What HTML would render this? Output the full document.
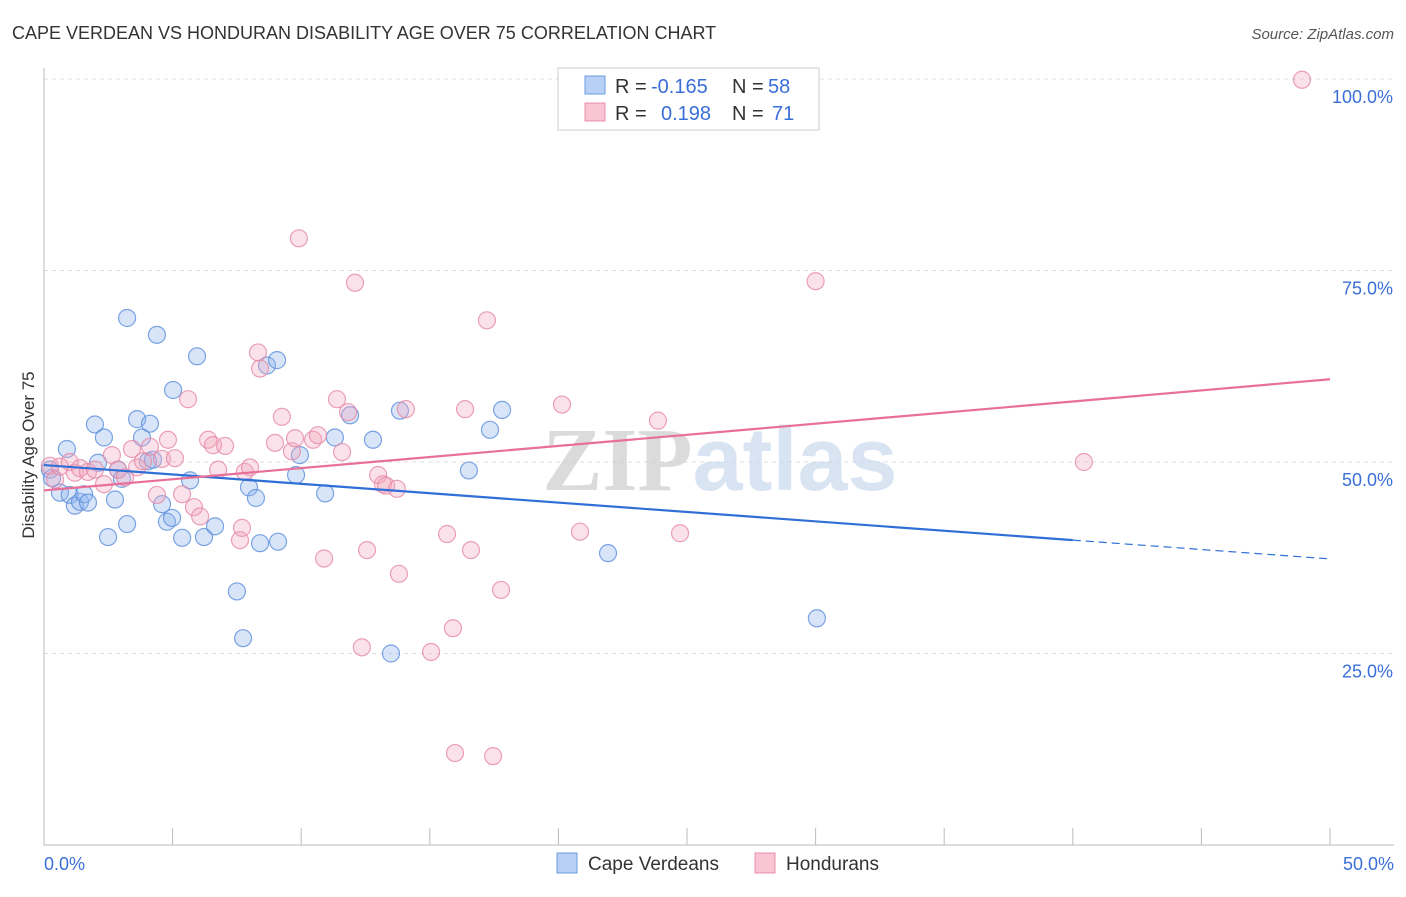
<!DOCTYPE html>
<html><head><meta charset="utf-8"><style>
body{margin:0;background:#fff;font-family:"Liberation Sans",sans-serif;}
svg text{font-family:"Liberation Sans",sans-serif;}
</style></head><body>
<svg width="1406" height="892" xmlns="http://www.w3.org/2000/svg">
<text x="12" y="39" font-size="18" fill="#333">CAPE VERDEAN VS HONDURAN DISABILITY AGE OVER 75 CORRELATION CHART</text>
<text x="1394" y="39" font-size="15" fill="#555" text-anchor="end" font-style="italic">Source: ZipAtlas.com</text>
<g id="grid"></g>
<text x="720" y="490" font-size="90" fill="#ddd" text-anchor="middle" font-weight="bold" opacity="0.7"><tspan font-family="Liberation Serif" fill="#ccc">ZIP</tspan><tspan fill="#c9d9ef">atlas</tspan></text>
<text transform="translate(34,455) rotate(-90)" font-size="17" fill="#333" text-anchor="middle">Disability Age Over 75</text>
<g id="pts"></g>
<g id="lines"></g>
<g>
<rect x="558" y="68" width="261" height="62" fill="#fff" stroke="#ccc"/>
<rect x="585" y="76" width="20" height="18" fill="#b8d0f5" stroke="#6a9be0"/>
<rect x="585" y="103" width="20" height="18" fill="#f9c5d5" stroke="#e890ac"/>
<text x="615" y="93" font-size="20" fill="#333">R =</text>
<text x="651" y="93" font-size="20" fill="#3a6fd8">-0.165</text>
<text x="732" y="93" font-size="20" fill="#333">N =</text>
<text x="768" y="93" font-size="20" fill="#3a6fd8">58</text>
<text x="615" y="120" font-size="20" fill="#333">R =</text>
<text x="661" y="120" font-size="20" fill="#3a6fd8">0.198</text>
<text x="732" y="120" font-size="20" fill="#333">N =</text>
<text x="772" y="120" font-size="20" fill="#3a6fd8">71</text>
</g>
<g>
<rect x="557" y="853" width="20" height="20" fill="#b8d0f5" stroke="#6a9be0"/>
<text x="588" y="870" font-size="19" fill="#333">Cape Verdeans</text>
<rect x="755" y="853" width="20" height="20" fill="#f9c5d5" stroke="#e890ac"/>
<text x="786" y="870" font-size="19" fill="#333">Hondurans</text>
</g>
</svg>
<script>
const yTicks=[25,50,75,100];
const yTickLabels=["25.0%","50.0%","75.0%","100.0%"];
const xTickLabels=["0.0%","50.0%"];
const blueX=[0.23,0.31,0.62,0.89,1.0,1.2,1.4,1.56,1.71,1.98,2.1,2.33,2.49,2.76,2.88,3.03,3.23,3.23,3.62,3.81,4.04,4.12,4.24,4.39,4.59,4.78,4.98,5.02,5.37,5.68,5.95,6.22,6.65,7.5,7.74,7.97,8.24,8.4,8.67,9.06,9.1,9.8,9.95,10.93,11.31,11.9,12.79,13.49,13.84,16.52,17.34,17.81,21.93,30.05];
const blueY=[49.0,47.9,46.0,51.7,45.7,44.3,44.8,45.8,44.7,54.9,49.9,53.2,40.2,45.1,49.0,47.8,68.8,41.9,55.6,53.2,50.1,55.0,50.3,66.6,44.5,42.2,42.7,59.4,40.1,47.6,63.8,40.2,41.6,33.1,27.0,46.7,45.3,39.4,62.6,63.3,39.6,48.3,50.9,45.9,53.2,56.1,52.9,25.0,56.7,48.9,54.2,56.8,38.1,29.6];
const pinkX=[0.23,0.43,0.62,1.0,1.2,1.4,1.71,1.98,2.33,2.64,2.88,3.15,3.42,3.62,3.85,4.12,4.39,4.59,4.82,5.09,5.37,5.6,5.83,6.07,6.38,6.57,6.77,7.04,7.62,7.7,7.81,8.01,8.32,8.4,8.98,9.25,9.64,9.76,9.91,10.46,10.65,10.89,11.39,11.59,11.82,12.09,12.56,12.99,13.18,13.3,13.72,13.8,14.07,12.36,15.05,15.67,15.9,15.98,16.37,16.6,17.22,17.46,17.77,20.14,20.84,23.87,24.73,30.0,40.43,48.91];
const pinkY=[49.5,47.7,49.4,50.0,48.6,49.2,48.7,49.0,47.1,50.9,49.0,48.0,51.7,49.3,50.1,52.0,45.7,50.4,52.9,50.5,45.8,58.2,44.1,42.9,52.9,52.2,49.0,52.1,39.8,41.4,48.7,49.3,64.3,62.2,52.5,55.9,51.4,53.1,79.2,52.9,53.5,37.4,58.2,51.3,56.5,73.4,38.5,48.3,47.1,46.9,46.5,35.4,56.9,25.8,25.2,40.6,28.3,12.0,56.9,38.5,68.5,11.6,33.3,57.5,40.9,55.4,40.7,73.6,50.0,99.9];
const blueTrend=[49.6,-0.245];
const pinkTrend=[46.3,0.29];
const x0=44,x1=1330,yBase=845,yPer=7.66;
const xs=v=>x0+v*(x1-x0)/50, ys=v=>yBase-v*yPer;
const NS="http://www.w3.org/2000/svg";
function mk(t,a,p){const e=document.createElementNS(NS,t);for(const k in a)e.setAttribute(k,a[k]);p.appendChild(e);return e;}
const grid=document.getElementById('grid'),pts=document.getElementById('pts'),lines=document.getElementById('lines');
yTicks.forEach((t,i)=>{
 const l=mk('line',{x1:x0,x2:1394,y1:ys(t),y2:ys(t),stroke:'#ddd','stroke-dasharray':'4,4'},grid);
 
 
 const tx=mk('text',{x:1393,y:ys(t)+24,'font-size':18,fill:'#3a6fd8','text-anchor':'end'},grid);tx.textContent=yTickLabels[i];
 
 
});
const ax=mk('line',{x1:x0,x2:x0,y1:68,y2:845,stroke:'#bbb'},grid);


const bx=mk('line',{x1:x0,x2:1394,y1:845,y2:845,stroke:'#bbb'},grid);


for(let i=0;i<=10;i++){const x=xs(i*5);const t=mk('line',{x1:x,x2:x,y1:828,y2:845,stroke:'#bbb'},grid);
 
 }
[[0,'start',44],[50,'end',1394]].forEach((d,i)=>{const t=mk('text',{x:d[2],y:870,'font-size':18,fill:'#3a6fd8','text-anchor':d[1]},grid);t.textContent=xTickLabels[i];
 
 });
function dots(X,Y,fill,stroke,name){X.forEach((x,i)=>{const c=mk('circle',{cx:xs(x),cy:ys(Y[i]),r:8.5,fill:fill,'fill-opacity':0.35,stroke:stroke,'stroke-width':1.2,'stroke-opacity':0.8},pts);
 
 });}
dots(blueX,blueY,'#8fb4ee','#5b8fdc','cape-verdean-point');
dots(pinkX,pinkY,'#f4a9c0','#e58aa8','honduran-point');
const bf=blueTrend,pf=pinkTrend;
const bl=mk('line',{x1:xs(0),y1:ys(bf[0]),x2:xs(40),y2:ys(bf[0]+bf[1]*40),stroke:'#2f6fd6','stroke-width':2.2},lines);


const bd=mk('line',{x1:xs(40),y1:ys(bf[0]+bf[1]*40),x2:xs(50),y2:ys(bf[0]+bf[1]*50),stroke:'#2f6fd6','stroke-width':1.2,'stroke-dasharray':'8,5'},lines);


const pl=mk('line',{x1:xs(0),y1:ys(pf[0]),x2:xs(50),y2:ys(pf[0]+pf[1]*50),stroke:'#e86f98','stroke-width':2.2},lines);


</script>
</body></html>
